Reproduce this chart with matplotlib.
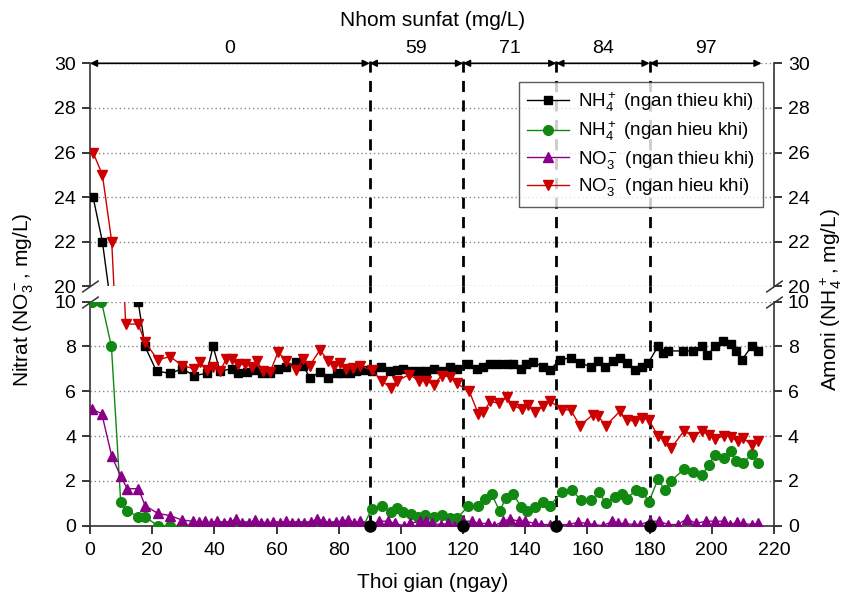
import matplotlib
matplotlib.use("Agg")
import matplotlib.pyplot as plt

plt.rcParams['font.family'] = ['Liberation Sans', 'DejaVu Sans']
plt.rcParams['mathtext.default'] = 'regular'

# NH4+ anoxic (black squares)
nh4_an_day = [1, 4, 15.5, 17.7, 21.4, 25.7, 29.7, 33.5, 37.5, 39.6, 41.8, 45.6, 47.7, 50.4, 53, 55.4,
              57.9, 60.5, 63.2, 66.4, 68.6, 70.7, 73.9, 76.6, 79.3, 81.4, 83.5, 85.7, 87.8, 90.6,
              93.5, 96.5, 98.6, 100.7, 103.4, 105.9, 108, 110.6, 113.4, 115.8, 117.9,
              121.6, 124.5, 126.5, 128.6, 131.3, 134, 136.1, 138.6, 140.4, 142.5, 145.8, 147.9,
              151.1, 154.6, 157.6, 161.3, 163.4, 165.6, 168.3, 170.6, 172.6, 175.2, 177.4, 179.5,
              182.7, 184.3, 186, 190.8, 194, 196.9, 198.6, 201, 203.6, 206.1, 207.9, 209.7, 212.8, 214.9]
nh4_an_val = [24, 22, 10, 8.0, 6.9, 6.8, 7.0, 6.7, 6.8, 8.0, 6.9, 7.0, 6.8, 6.85, 6.95, 6.8,
              6.8, 7.0, 7.1, 7.3, 7.15, 6.6, 6.85, 6.6, 6.8, 6.8, 6.8, 6.9, 6.95, 6.9,
              7.1, 6.9, 6.95, 7.0, 6.9, 6.9, 6.9, 7.0, 6.9, 7.1, 7.0,
              7.2, 7.0, 7.1, 7.2, 7.2, 7.2, 7.2, 7.0, 7.2, 7.3, 7.1, 6.95,
              7.4, 7.5, 7.25, 7.1, 7.35, 7.1, 7.35, 7.5, 7.25, 6.95, 7.1, 7.25,
              8.0, 7.7, 7.8, 7.8, 7.8, 8.0, 7.6, 8.0, 8.25, 8.1, 7.8, 7.4, 8.0, 7.8]

# NH4+ aerobic (green circles)
nh4_ae_day = [0.8, 3.7, 6.9, 9.9, 11.9, 15.6, 17.7, 21.8, 25.7, 29.7, 33, 35, 37, 40, 42, 44, 46,
              48, 50, 52, 55, 57, 60, 62, 64, 66, 68, 70, 72, 74, 76, 78, 80, 82, 84, 86, 88,
              90.6, 93.8, 96.7, 98.6, 100.7, 103.1, 105.6, 107.7, 110.6, 113.1, 115.8, 118.1,
              121.6, 124.9, 127, 129.2, 131.8, 133.7, 136.1, 138.8, 140.7, 143.1, 145.8, 147.9,
              151.7, 154.9, 157.8, 161.3, 163.8, 165.9, 168.8, 171, 172.6, 175.6, 177.7, 179.8,
              182.7, 184.9, 186.8, 191.1, 194, 196.9, 199, 201, 204, 206.1, 207.9, 210.1, 212.8, 214.9]
nh4_ae_val = [10, 10, 8.0, 1.04, 0.67, 0.4, 0.4, 0.0, 0.0, 0.0, 0.0, 0.0, 0.0, 0.0, 0.0, 0.0, 0.05,
              0.0, 0.0, 0.0, 0.0, 0.0, 0.0, 0.0, 0.0, 0.0, 0.0, 0.0, 0.0, 0.0, 0.0, 0.0, 0.0, 0.0, 0.0, 0.0, 0.0,
              0.74, 0.89, 0.6, 0.79, 0.6, 0.52, 0.37, 0.49, 0.37, 0.49, 0.34, 0.34,
              0.86, 0.86, 1.19, 1.41, 0.64, 1.23, 1.41, 0.82, 0.67, 0.82, 1.04, 0.89,
              1.49, 1.6, 1.16, 1.16, 1.49, 1.0, 1.28, 1.41, 1.19, 1.6, 1.5, 1.07,
              2.08, 1.59, 1.98, 2.53, 2.38, 2.27, 2.72, 3.17, 3.02, 3.32, 2.87, 2.78, 3.2, 2.78]

# NO3- anoxic (purple up triangles)
no3_an_day = [0.6, 3.8, 7, 9.9, 12, 15.6, 17.7, 21.8, 25.7, 29.7, 33, 35, 37, 39, 41, 43, 45, 47,
              49, 51, 53, 55, 57, 59, 61, 63, 65, 67, 69, 71, 73, 75, 77, 79, 81, 83, 85, 87,
              90.5, 93, 96, 98, 101, 103, 106, 108, 110, 113, 115, 117, 120, 123, 125, 128, 130,
              133, 135, 138, 140, 143, 145, 148, 151, 154, 157, 160, 162, 165, 168, 170, 172, 175,
              177, 180, 183, 186, 189, 192, 195, 198, 201, 204, 206, 208, 210, 213, 215]
no3_an_val = [5.2, 5.0, 3.1, 2.2, 1.65, 1.65, 0.9, 0.55, 0.45, 0.25, 0.2, 0.15, 0.2, 0.1, 0.2, 0.1, 0.15, 0.3,
              0.1, 0.1, 0.25, 0.1, 0.1, 0.15, 0.1, 0.2, 0.1, 0.1, 0.1, 0.15, 0.3, 0.2, 0.1, 0.15, 0.2, 0.25, 0.1, 0.2,
              0.05, 0.2, 0.2, 0.1, 0.0, 0.1, 0.2, 0.2, 0.1, 0.05, 0.1, 0.0, 0.2, 0.2, 0.1, 0.1, 0.0,
              0.2, 0.3, 0.2, 0.2, 0.1, 0.05, 0.05, 0.05, 0.05, 0.15, 0.1, 0.05, 0.0, 0.2, 0.1, 0.1, 0.05,
              0.05, 0.2, 0.2, 0.05, 0.05, 0.3, 0.1, 0.2, 0.2, 0.2, 0.05, 0.15, 0.1, 0.05, 0.1]

# NO3- aerobic (red down triangles)
no3_ae_day = [1, 4, 7, 11.5, 15.5, 17.7, 21.8, 25.7, 29.7, 33.5, 35.4, 37.5, 39.6, 41.8, 43.9, 45.6,
              47.7, 50, 52, 53.6, 55.7, 57.9, 60.5, 63.2, 66.4, 68.6, 70.7, 74, 76.6, 78.5, 80.3,
              82.5, 84.5, 86.7, 90.6, 93.8, 96.7, 98.8, 102.7, 105.9, 108, 110.6, 113.1, 115.8, 117.9,
              122, 124.9, 126.5, 128.8, 131.6, 134, 136.1, 139, 140.9, 143.1, 145.8, 147.9,
              151.7, 154.6, 157.6, 161.8, 163.4, 165.9, 170.4, 172.6, 175.2, 177.4, 179.8,
              182.7, 185.1, 187, 191.1, 194, 196.9, 199, 201.2, 204, 206.1, 208.3, 210.1, 212.8, 214.9]
no3_ae_val = [26, 25, 22, 9.0, 9.0, 8.2, 7.4, 7.55, 7.15, 7.0, 7.3, 6.95, 7.1, 6.9, 7.45, 7.45,
              7.2, 7.2, 7.1, 7.35, 6.9, 6.85, 7.75, 7.35, 6.95, 7.45, 7.15, 7.85, 7.35, 7.15, 7.25,
              7.0, 7.05, 7.15, 6.95, 6.47, 6.15, 6.47, 6.74, 6.47, 6.47, 6.3, 6.7, 6.65, 6.35,
              6.0, 5.0, 5.06, 5.55, 5.46, 5.75, 5.35, 5.2, 5.4, 5.06, 5.35, 5.58,
              5.17, 5.17, 4.46, 4.96, 4.9, 4.46, 5.1, 4.7, 4.68, 4.82, 4.72,
              4.0, 3.8, 3.47, 4.24, 3.98, 4.24, 4.06, 3.87, 4.02, 3.98, 3.76, 3.9, 3.62, 3.8]

phase_start = [0, 90, 120, 150, 180]
phase_end = [90, 120, 150, 180, 216]
phase_dose = ['0', '59', '71', '84', '97']

fig = plt.figure(figsize=(8.44, 5.99), dpi=100)
ax_top = fig.add_axes([0.1066, 0.522, 0.8104, 0.3723])
ax_bot = fig.add_axes([0.1066, 0.1224, 0.8104, 0.3740])

series = [
    (nh4_an_day, nh4_an_val, 'black', 's', 6, 'NH$_4^+$ (ngan thieu khi)'),
    (nh4_ae_day, nh4_ae_val, '#118811', 'o', 7, 'NH$_4^+$ (ngan hieu khi)'),
    (no3_an_day, no3_an_val, '#880088', '^', 7, 'NO$_3^-$ (ngan thieu khi)'),
    (no3_ae_day, no3_ae_val, '#cc0000', 'v', 7, 'NO$_3^-$ (ngan hieu khi)'),
]

handles = []
for ax in (ax_top, ax_bot):
    for d, v, c, m, ms, lab in series:
        h, = ax.plot(d, v, color=c, marker=m, markersize=ms, lw=1.0, mec=c, mfc=c, label=lab, zorder=4)
        if ax is ax_top:
            handles.append(h)

ax_top.set_ylim(20, 30)
ax_bot.set_ylim(0, 10)
for ax in (ax_top, ax_bot):
    ax.set_xlim(0, 220)
    for s in ax.spines.values():
        s.set_linewidth(1.2)
        s.set_color('#333333')
    ax.tick_params(axis='y', which='both', left=True, right=True, labelleft=True, labelright=True,
                   direction='out', length=6, width=1.1, labelsize=14, pad=4)
    ax.yaxis.grid(True, color='#888888', linestyle=(0, (1, 2)), linewidth=1.0)
    ax.set_axisbelow(True)

ax_top.set_yticks([20, 22, 24, 26, 28, 30])
ax_bot.set_yticks([0, 2, 4, 6, 8, 10])
ax_top.spines['top'].set_visible(False)
ax_top.spines['bottom'].set_visible(False)
ax_bot.spines['top'].set_visible(False)
ax_top.tick_params(axis='x', bottom=False, labelbottom=False)
ax_bot.set_xticks(range(0, 221, 20))
ax_bot.tick_params(axis='x', direction='out', length=6, width=1.1, labelsize=14, pad=6)

# phase divider lines
for x in phase_start[1:]:
    ax_bot.axvline(x, ymin=0, ymax=1.07, color='black', lw=2, dashes=(4, 3), clip_on=False, zorder=3)
    ax_top.axvline(x, ymin=0, ymax=1.035, color='black', lw=2, dashes=(4, 3), clip_on=False, zorder=3)
    ax_bot.plot(x, 0, 'o', color='black', markersize=8, clip_on=False, zorder=5)

# dose arrows along the top
for a, b, lab in zip(phase_start, phase_end, phase_dose):
    ax_top.annotate('', xy=(b, 30), xytext=(a, 30),
                    arrowprops=dict(arrowstyle='<|-|>', color='black', lw=1.2, mutation_scale=10,
                                    shrinkA=0, shrinkB=0), annotation_clip=False)
    ax_top.text((a + b) / 2, 30.3, lab, ha='center', va='bottom', fontsize=14)

# broken-axis marks
kw = dict(marker=[(-1, -0.7), (1, 0.7)], markersize=12, linestyle='none', color='#333333',
          mec='#333333', mew=1.1, clip_on=False)
ax_top.plot([0, 1], [0, 0], transform=ax_top.transAxes, **kw)
ax_bot.plot([0, 1], [1, 1], transform=ax_bot.transAxes, **kw)

leg = ax_top.legend(handles=handles, loc='upper left', bbox_to_anchor=(0.627, 0.9175), borderaxespad=0,
                    fontsize=13.5, frameon=True, fancybox=False, handlelength=2.2, labelspacing=0.3,
                    borderpad=0.45, handletextpad=0.5)
leg.get_frame().set_edgecolor('#333333')
leg.get_frame().set_linewidth(1.0)

fig.text(0.512, 0.965, 'Nhom sunfat (mg/L)', ha='center', va='center', fontsize=15)
fig.text(0.512, 0.027, 'Thoi gian (ngay)', ha='center', va='center', fontsize=15)
fig.text(0.028, 0.5, 'Nitrat (NO$_3^-$, mg/L)', ha='center', va='center', rotation=90, fontsize=15)
fig.text(0.985, 0.5, 'Amoni (NH$_4^+$, mg/L)', ha='center', va='center', rotation=90, fontsize=15)

fig.savefig('out.png', dpi=100)
